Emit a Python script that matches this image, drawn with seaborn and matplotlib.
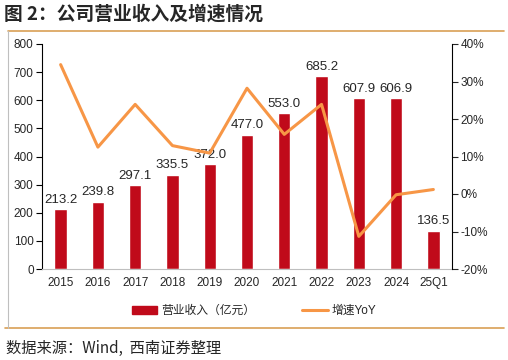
import matplotlib.pyplot as plt
import seaborn as sns
import pandas as pd
import numpy as np
from matplotlib.lines import Line2D
from matplotlib.patches import Patch

years = ['2015', '2016', '2017', '2018', '2019', '2020', '2021', '2022', '2023', '2024', '25Q1']
revenue = [213.2, 239.8, 297.1, 335.5, 372.0, 477.0, 553.0, 685.2, 607.9, 606.9, 136.5]
yoy = [34.5, 12.5, 23.9, 12.9, 10.9, 28.2, 15.9, 23.9, -11.3, -0.2, 1.2]

sns.set_style('white')
plt.rcParams['font.family'] = ['Liberation Sans', 'Noto Sans CJK SC', 'DejaVu Sans']

bar_color = '#C00A1A'
line_color = '#F79646'
gold = '#D9A055'

df = pd.DataFrame({'year': years, 'revenue': revenue, 'yoy': yoy})

fig = plt.figure(figsize=(5.08, 3.6), dpi=100)
ax = fig.add_axes([42 / 508, 1 - 269 / 360, 410 / 508, 225 / 360])

sns.barplot(data=df, x='year', y='revenue', color=bar_color, width=0.33,
            saturation=1, ax=ax)
ax.set_ylim(0, 800)
ax.set_xlim(-0.5, len(years) - 0.5)
ax.set_yticks(np.arange(0, 801, 100))
ax.set_xlabel('')
ax.set_ylabel('')
for i, v in enumerate(revenue):
    ax.text(i, v + 12, f'{v:.1f}', ha='center', va='bottom', fontsize=9.5)

ax.set_xticks(np.arange(len(years)))
ax.set_xticklabels(years, fontsize=8.5)
ax.set_xticks(np.arange(len(years) + 1) - 0.5, minor=True)
ax.tick_params(axis='x', which='major', length=0, pad=6)
ax.tick_params(axis='x', which='minor', length=4, color='#BFBFBF', direction='out')
ax.tick_params(axis='y', labelsize=8.5, length=4, direction='out', color='black', pad=2)
ax.tick_params(axis='y', left=True)

for s in ['top', 'right']:
    ax.spines[s].set_visible(False)
ax.spines['left'].set_color('black')
ax.spines['left'].set_linewidth(0.8)
ax.spines['bottom'].set_color('#BFBFBF')
ax.spines['bottom'].set_linewidth(0.8)

ax2 = ax.twinx()
sns.lineplot(x=np.arange(len(years)), y=yoy, color=line_color, linewidth=2.2, ax=ax2)
ax2.set_ylim(-20, 40)
ax2.set_yticks(np.arange(-20, 41, 10))
ax2.set_yticklabels([f'{t}%' for t in range(-20, 41, 10)])
ax2.tick_params(axis='y', labelsize=8.5, length=4, direction='out', right=True, pad=2)
for s in ['top', 'left', 'bottom']:
    ax2.spines[s].set_visible(False)
ax2.spines['right'].set_color('black')
ax2.spines['right'].set_linewidth(0.8)

# legend
handles = [Patch(facecolor=bar_color, edgecolor=bar_color),
           Line2D([0], [0], color=line_color, linewidth=2.2)]
fig.legend(handles, ['营业收入（亿元）', '增速YoY'], loc='center',
           bbox_to_anchor=(0.5, 1 - 311 / 360), ncol=2, frameon=False,
           fontsize=8.5, handlelength=2.2, handleheight=0.6, columnspacing=4,
           handletextpad=0.3)

# title and frame
fig.text(4 / 508, 1 - 14 / 360, '图 2：公司营业收入及增速情况', fontsize=13.5,
         fontweight='bold', ha='left', va='center',
         family=['Noto Sans CJK SC', 'DejaVu Sans'])
fig.add_artist(Line2D([8 / 508, 504 / 508], [1 - 31 / 360] * 2, color=gold, linewidth=1.2))
fig.add_artist(Line2D([5 / 508, 504 / 508], [1 - 328 / 360] * 2, color=gold, linewidth=1.2))
fig.add_artist(Line2D([8 / 508, 8 / 508], [1 - 31 / 360, 1 - 328 / 360], color='#BFBFBF', linewidth=0.8))
fig.text(6 / 508, 1 - 348 / 360, '数据来源：Wind,  西南证券整理', fontsize=11,
         style='italic', ha='left', va='center',
         family=['Noto Sans CJK SC', 'DejaVu Sans'])

fig.savefig('out.png', dpi=100)
